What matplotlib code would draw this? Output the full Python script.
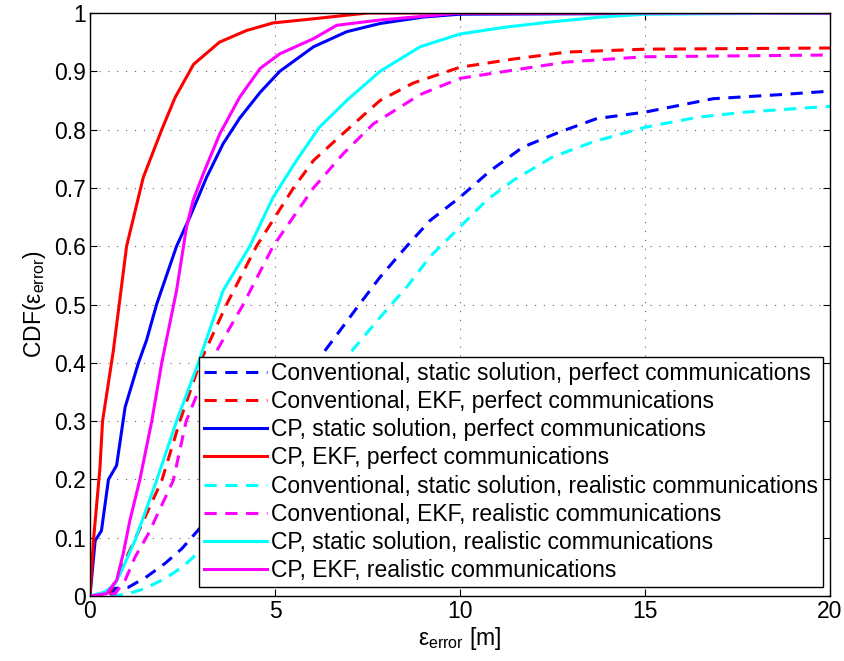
import matplotlib
matplotlib.use('Agg')
from matplotlib import pyplot as plt

plt.rcParams['font.family'] = ['Liberation Sans', 'DejaVu Sans']
plt.rcParams['mathtext.fontset'] = 'custom'
plt.rcParams['mathtext.rm'] = 'Liberation Sans'

# curves: error [m] vs CDF
conv_static_perf_x = [0, 0.54, 0.68, 1.04, 1.53, 2.03, 2.48, 2.84, 3.5, 4.5, 5.5, 6.26, 7.28, 7.84,
                      8.56, 9.19, 10.0, 10.81, 11.7, 12.7, 13.7, 15.0, 16.84, 18.65, 20.0]
conv_static_perf_y = [0, 0.0, 0.013, 0.015, 0.033, 0.056, 0.081, 0.107, 0.155, 0.24, 0.33, 0.413, 0.5, 0.547,
                      0.6, 0.644, 0.684, 0.729, 0.77, 0.796, 0.819, 0.83, 0.853, 0.86, 0.866]

conv_ekf_perf_x = [0, 0.5, 0.77, 1.12, 1.94, 2.43, 2.97, 3.69, 4.5, 5.5, 6.04, 6.85, 7.84,
                   8.74, 10.0, 11.44, 12.88, 15.0, 17.5, 20.0]
conv_ekf_perf_y = [0, 0.0, 0.038, 0.084, 0.198, 0.3, 0.4, 0.5, 0.6, 0.7, 0.747, 0.794, 0.85,
                   0.88, 0.907, 0.921, 0.933, 0.938, 0.939, 0.94]

cp_static_perf_x = [0, 0.14, 0.31, 0.5, 0.72, 0.95, 1.31, 1.53, 1.8, 2.34, 2.7, 3.15, 3.6, 4.05,
                    4.6, 5.13, 6.04, 6.94, 7.84, 9.0, 10.0, 20.0]
cp_static_perf_y = [0, 0.095, 0.112, 0.2, 0.224, 0.324, 0.4, 0.439, 0.5, 0.6, 0.65, 0.718, 0.776, 0.82,
                    0.864, 0.9, 0.942, 0.968, 0.982, 0.993, 0.998, 1.0]

cp_ekf_perf_x = [0, 0.1, 0.27, 0.34, 0.63, 0.79, 0.99, 1.44, 1.94, 2.3, 2.8, 3.5, 4.23, 4.95,
                 6.03, 6.75, 7.5, 20.0]
cp_ekf_perf_y = [0, 0.1, 0.22, 0.3, 0.42, 0.5, 0.6, 0.718, 0.8, 0.855, 0.912, 0.95, 0.97, 0.983,
                 0.99, 0.995, 1.0, 1.0]

conv_static_real_x = [0, 0.62, 1.04, 1.49, 2.03, 2.48, 2.75, 3.5, 4.5, 5.5, 6.3, 6.94, 7.84,
                      8.56, 9.19, 10.0, 10.72, 11.44, 12.5, 13.6, 15.0, 16.4, 17.7, 20.0]
conv_static_real_y = [0, 0.0, 0.004, 0.013, 0.03, 0.049, 0.064, 0.115, 0.19, 0.28, 0.355, 0.41, 0.478,
                      0.53, 0.582, 0.633, 0.679, 0.713, 0.753, 0.779, 0.804, 0.821, 0.83, 0.84]

conv_ekf_real_x = [0, 0.68, 0.95, 1.22, 1.58, 2.25, 2.6, 3.24, 4.14, 4.95, 6.04, 6.85, 7.66,
                   8.92, 10.0, 11.44, 12.88, 15.0, 20.0]
conv_ekf_real_y = [0, 0.004, 0.027, 0.067, 0.107, 0.198, 0.3, 0.4, 0.5, 0.6, 0.7, 0.759, 0.81,
                   0.86, 0.888, 0.902, 0.916, 0.925, 0.928]

cp_static_real_x = [0, 0.41, 0.68, 0.86, 1.22, 1.8, 2.34, 2.93, 3.6, 4.32, 4.95, 5.58, 6.2, 6.94,
                    7.84, 8.92, 10.0, 11.26, 12.5, 13.8, 15.0, 20.0]
cp_static_real_y = [0, 0.007, 0.021, 0.044, 0.096, 0.198, 0.3, 0.4, 0.524, 0.6, 0.684, 0.747, 0.804, 0.85,
                    0.9, 0.942, 0.964, 0.976, 0.985, 0.993, 0.998, 1.0]

cp_ekf_real_x = [0, 0.45, 0.72, 0.9, 1.08, 1.35, 1.67, 1.94, 2.34, 2.61, 2.79, 3.06, 3.51, 4.05,
                 4.6, 5.13, 6.04, 6.67, 7.84, 10.0, 20.0]
cp_ekf_real_y = [0, 0.004, 0.027, 0.073, 0.13, 0.2, 0.3, 0.4, 0.524, 0.633, 0.679, 0.724, 0.793, 0.856,
                 0.905, 0.93, 0.956, 0.979, 0.988, 1.0, 1.0]

labels = [
    'Conventional, static solution, perfect communications',
    'Conventional, EKF, perfect communications',
    'CP, static solution, perfect communications',
    'CP, EKF, perfect communications',
    'Conventional, static solution, realistic communications',
    'Conventional, EKF, realistic communications',
    'CP, static solution, realistic communications',
    'CP, EKF, realistic communications',
]

x_ticks = [0, 5, 10, 15, 20]
y_ticks = [0, 0.1, 0.2, 0.3, 0.4, 0.5, 0.6, 0.7, 0.8, 0.9, 1]
y_tick_labels = ['0', '0.1', '0.2', '0.3', '0.4', '0.5', '0.6', '0.7', '0.8', '0.9', '1']

if __name__ == '__main__':
    fig = plt.figure(figsize=(8.44, 6.61), dpi=100)
    ax = fig.add_axes([0.1066, 0.0983, 0.8768, 0.882])

    dash = (0, (4.0, 2.8))
    lw = 2.2
    fs = 16.5
    series = [
        (conv_static_perf_x, conv_static_perf_y, '#0000FF', dash),
        (conv_ekf_perf_x, conv_ekf_perf_y, '#FF0000', dash),
        (cp_static_perf_x, cp_static_perf_y, '#0000FF', '-'),
        (cp_ekf_perf_x, cp_ekf_perf_y, '#FF0000', '-'),
        (conv_static_real_x, conv_static_real_y, '#00FFFF', dash),
        (conv_ekf_real_x, conv_ekf_real_y, '#FF00FF', dash),
        (cp_static_real_x, cp_static_real_y, '#00FFFF', '-'),
        (cp_ekf_real_x, cp_ekf_real_y, '#FF00FF', '-'),
    ]
    for (xs, ys, c, ls), lab in zip(series, labels):
        ax.plot(xs, ys, color=c, linestyle=ls, lw=lw, label=lab)

    ax.set_xlim(0, 20)
    ax.set_ylim(0, 1)
    ax.set_xticks(x_ticks)
    ax.set_xticklabels([str(t) for t in x_ticks])
    ax.set_yticks(y_ticks)
    ax.set_yticklabels(y_tick_labels)
    ax.tick_params(direction='in', length=5, width=0.8, labelsize=fs,
                   top=True, right=True, pad=3)
    ax.grid(True, color='0.4', linestyle=(0, (1, 7)), lw=0.8)
    for s in ax.spines.values():
        s.set_linewidth(1.0)

    ax.set_xlabel(r'$\mathregular{ε_{error}}$ [m]', fontsize=fs, labelpad=1)
    ax.set_ylabel(r'CDF($\mathregular{ε_{error}}$)', fontsize=fs, labelpad=4)

    leg = ax.legend(loc='lower right', bbox_to_anchor=(0.9905, 0.0154), borderaxespad=0,
                    fontsize=fs, frameon=True, fancybox=False, handlelength=2.75,
                    labelspacing=0.23, borderpad=0.2, handletextpad=0.2)
    leg.get_frame().set_edgecolor('k')
    leg.get_frame().set_linewidth(1.0)
    leg.get_frame().set_alpha(1)

    fig.savefig('out.png', dpi=100)
